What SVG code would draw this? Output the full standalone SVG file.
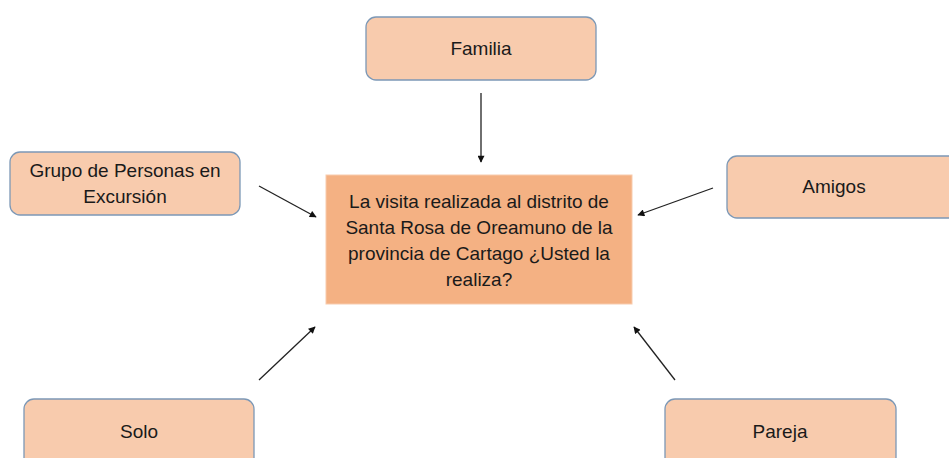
<svg xmlns="http://www.w3.org/2000/svg" width="949" height="458" viewBox="0 0 949 458">
<style>
.node rect{fill:#F8CBAD;stroke:#7C98B6;stroke-width:1.3}
.center rect{fill:#F4B183;stroke:#F8CBAD;stroke-width:1}
text{font-family:"Liberation Sans",Arial,sans-serif;font-size:19px;fill:#1a1a1a;text-anchor:middle}
.conn line{stroke:#222;stroke-width:1.3;marker-end:url(#ah)}
</style>
<defs>
<marker id="ah" viewBox="0 0 10 10" refX="9" refY="5" markerWidth="8" markerHeight="7" markerUnits="userSpaceOnUse" orient="auto">
<path d="M0,0 L10,5 L0,10 z" fill="#111"/>
</marker>
</defs>
<rect width="949" height="458" fill="#fff"/>
<g id="conectores" class="conn">
<line x1="481" y1="93" x2="481" y2="162"/>
<line x1="259" y1="186" x2="316" y2="217"/>
<line x1="713" y1="188" x2="638" y2="215"/>
<line x1="259" y1="380" x2="315" y2="327"/>
<line x1="675" y1="380" x2="634" y2="327"/>
</g>
<g id="central" class="center">
<rect x="326" y="175" width="306" height="129"/>
<text x="479" y="208">La visita realizada al distrito de</text>
<text x="479" y="234">Santa Rosa de Oreamuno de la</text>
<text x="479" y="260">provincia de Cartago ¿Usted la</text>
<text x="479" y="286">realiza?</text>
</g>
<g id="familia" class="node">
<rect x="366" y="17" width="230" height="63" rx="10"/>
<text x="481" y="55">Familia</text>
</g>
<g id="grupo" class="node">
<rect x="10" y="152" width="230" height="63" rx="10"/>
<text x="125" y="177">Grupo de Personas en</text>
<text x="125" y="203">Excursión</text>
</g>
<g id="amigos" class="node">
<rect x="727" y="156" width="232" height="62" rx="10"/>
<text x="834" y="193">Amigos</text>
</g>
<g id="solo" class="node">
<rect x="24" y="399" width="230" height="70" rx="10"/>
<text x="139" y="438">Solo</text>
</g>
<g id="pareja" class="node">
<rect x="665" y="399" width="231" height="70" rx="10"/>
<text x="780" y="438">Pareja</text>
</g>
</svg>
